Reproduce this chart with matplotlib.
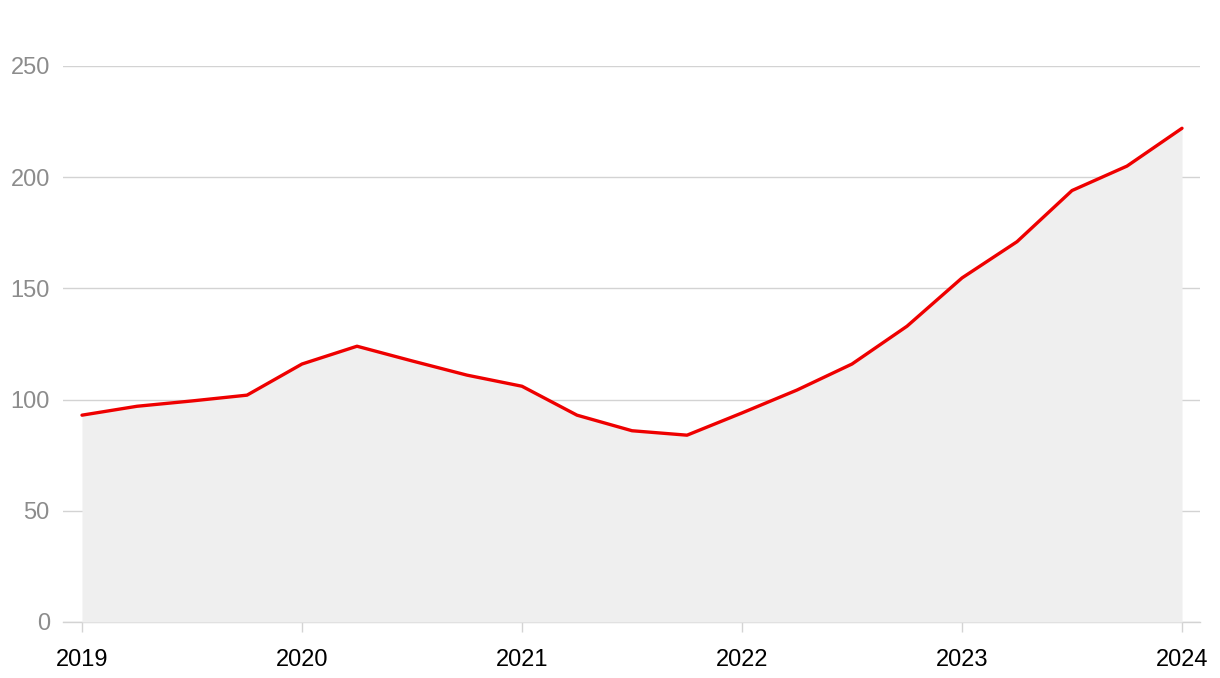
import matplotlib
matplotlib.use("Agg")
import matplotlib.pyplot as plt

x_years = [2019.0, 2019.25, 2019.5, 2019.75, 2020.0, 2020.25, 2020.5, 2020.75,
           2021.0, 2021.25, 2021.5, 2021.75, 2022.0, 2022.25, 2022.5, 2022.75,
           2023.0, 2023.25, 2023.5, 2023.75, 2024.0]
values = [93, 97, 99.4, 102, 116, 124, 117.4, 111, 106, 93, 86, 84, 94, 104.3,
          116, 133, 154.7, 171, 194, 205, 222]
x_ticks = [2019, 2020, 2021, 2022, 2023, 2024]
y_ticks = [0, 50, 100, 150, 200, 250]

plt.rcParams['font.family'] = ['Liberation Sans', 'DejaVu Sans']

fig = plt.figure(figsize=(12.2, 6.78), dpi=100)
ax = fig.add_axes([63/1220, 56/678, (1200-63)/1220, (622-66)/678])

ax.fill_between(x_years, values, 0, color='#efefef', linewidth=0, zorder=1)
ax.plot(x_years, values, color='#ee0000', linewidth=2.4, zorder=3,
        solid_joinstyle='round', solid_capstyle='round')

ax.set_xlim(2019 - 19/220, 2024 + 18/220)
ax.set_ylim(0, 250)
ax.set_yticks(y_ticks)
ax.set_yticklabels([str(v) for v in y_ticks])
ax.set_xticks(x_ticks)
ax.set_xticklabels([str(v) for v in x_ticks])
ax.grid(axis='y', color='#d3d3d3', linewidth=1.0, zorder=0)
ax.set_axisbelow(True)
for s in ['top', 'right', 'left']:
    ax.spines[s].set_visible(False)
ax.spines['bottom'].set_color('#d3d3d3')
ax.spines['bottom'].set_linewidth(1.0)
ax.spines['bottom'].set_zorder(0.5)
ax.tick_params(axis='y', length=0, pad=9.5, labelsize=17, labelcolor='#8c8c8c')
ax.tick_params(axis='x', length=7.2, width=1.0, color='#d3d3d3', pad=12,
               labelsize=17, labelcolor='#000000')

fig.savefig('out.png', dpi=100, facecolor='white')
